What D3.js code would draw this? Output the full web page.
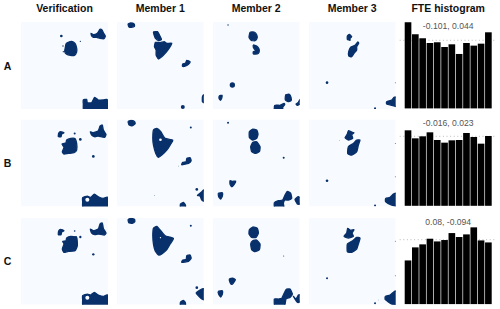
<!DOCTYPE html>
<meta charset="utf-8">
<style>
html, body { margin: 0; padding: 0; background: #fff; }
svg { display: block; }
text { font-family: "Liberation Sans", Arial, sans-serif; }
.title, .rowlabel { font-size: 10.5px; font-weight: bold; fill: #111; }
.stat { font-size: 8.6px; fill: #555; }
.ref { stroke: #aaa; stroke-width: 0.8; stroke-dasharray: 1 2.6; }
.blob { fill: #08306b; stroke: #08306b; stroke-width: 1.3; stroke-linejoin: round; }
</style>
<body>
<svg width="500" height="309"></svg>
<script src="https://d3js.org/d3.v7.min.js"></script>
<script>
var columnTitles = ["Verification", "Member 1", "Member 2", "Member 3", "FTE histogram"];
var rowLabels = ["A", "B", "C"];

// FTE histogram, frequency per bin (12 bins)
var fteA = [.1054, .0907, .0858, .0800, .0809, .0751, .0784, .0666, .0800, .0768, .0792, .0931];
var fteB = [.0905, .0809, .0833, .0881, .0789, .0757, .0785, .0789, .0873, .0825, .0745, .0837];
var fteC = [.0565, .0734, .0773, .0846, .0811, .0829, .0919, .0868, .0902, .0993, .0824, .0798];
var fteLabels = ["-0.101, 0.044", "-0.016, 0.023", "0.08, -0.094"];
var fteMax = [.1057, .1036, .1118];
var uniformFreq = 1 / 12;

// thresholded fields: outlines on a 0-261 grid, spots are [x, y, radius]
var outlinesAV = [
  [[140,62],[152,58],[162,64],[167,78],[167,90],[160,100],[148,100],[137,97],[131,88],[133,76],[135,66]],
  [[210,34],[217,38],[229,34],[237,22],[243,24],[248,34],[253,42],[249,50],[237,49],[227,46],[217,46],[212,42]],
  [[187,234],[197,232],[199,242],[212,242],[221,226],[232,234],[247,234],[257,232],[261,239],[264,270],[191,270],[187,246]]
];
var spotsAV = [[121,42,4],[178,58,2],[126,72,2],[127,89,2]];
var outlinesAM1 = [
  [[34,6],[42,3],[52,6],[53,13],[44,16],[36,14]],
  [[110,30],[122,29],[128,39],[134,52],[126,56],[116,49],[112,39]],
  [[116,61],[130,62],[142,59],[150,64],[165,64],[160,74],[153,84],[145,94],[135,104],[125,111],[118,99],[118,84],[113,74]],
  [[210,115],[220,119],[215,127],[207,132],[197,133],[198,126],[206,124]],
  [[257,224],[262,218],[268,244],[257,239]]
];
var spotsAM1 = [[198,255,6]];
var outlinesAM2 = [
  [[112,31],[124,30],[132,38],[133,49],[127,56],[116,55],[109,46]],
  [[122,69],[132,72],[139,81],[139,91],[134,96],[122,96],[122,89],[130,86],[125,81],[122,76]],
  [[20,222],[28,220],[27,229],[23,235],[19,229]],
  [[220,218],[230,217],[235,226],[235,236],[226,239],[218,234],[218,224]],
  [[186,250],[202,250],[214,244],[216,248],[210,256],[210,270],[186,270]],
  [[250,246],[257,241],[262,232],[266,244],[254,250]]
];
var spotsAM2 = [[46,9,2],[59,189,8]];
var outlinesAM3 = [
  [[116,42],[122,37],[129,44],[124,49],[124,55],[116,52]],
  [[147,60],[150,64],[144,74],[144,84],[136,94],[129,104],[120,102],[120,89],[126,76],[139,70]],
  [[234,239],[249,234],[256,226],[266,226],[266,254],[249,250],[234,246]]
];
var spotsAM3 = [[55,182,4],[199,259,3],[260,182,1.5]];

var outlinesBV = [
  [[137,62],[149,57],[162,57],[167,72],[167,92],[159,100],[142,102],[129,104],[124,97],[129,84],[123,74],[135,70]],
  [[113,42],[119,37],[129,40],[122,44],[120,52],[112,52]],
  [[208,37],[217,40],[232,34],[237,20],[244,17],[247,32],[255,45],[250,54],[232,50],[222,52],[212,47]],
  [[185,235],[199,230],[209,234],[220,224],[232,232],[247,237],[260,234],[266,270],[189,270],[185,247]]
];
var spotsBV = [[161,42,3],[178,60,4],[217,111,4]];
var holesBV = [[199,241,6]];
var outlinesBM1 = [
  [[34,7],[42,3],[53,6],[55,13],[47,19],[37,17]],
  [[110,32],[120,27],[132,37],[145,57],[168,62],[160,77],[150,92],[135,107],[125,114],[117,102],[110,77],[108,57]],
  [[210,117],[220,115],[223,124],[215,132],[195,136],[198,129],[208,127]],
  [[255,217],[262,212],[268,247],[255,242],[250,230],[242,228]],
  [[191,254],[200,249],[206,257],[205,270],[191,270]]
];
var spotsBM1 = [[222,24,3],[240,210,4],[185,140,1],[113,228,1]];
var holesBM1 = [[131,61,4]];
var outlinesBM2 = [
  [[110,37],[120,29],[132,32],[136,44],[132,57],[120,62],[110,54]],
  [[120,69],[132,67],[142,82],[140,97],[127,102],[117,97],[114,82]],
  [[52,184],[60,186],[69,185],[64,196],[57,202],[52,194]],
  [[17,222],[29,220],[29,230],[24,239],[18,232]],
  [[217,227],[224,216],[234,222],[237,237],[227,242],[217,242],[212,252],[214,270],[187,270],[185,250],[197,244],[210,242]],
  [[247,240],[257,232],[265,237],[262,254],[254,254]]
];
var spotsBM2 = [[46,10,3],[213,115,3]];
var outlinesBM3 = [
  [[109,55],[116,44],[119,34],[129,38],[136,40],[129,46],[132,57],[119,62]],
  [[144,62],[154,62],[149,77],[144,97],[129,107],[117,102],[119,82],[134,72]],
  [[231,237],[244,234],[254,224],[266,222],[266,260],[249,257],[231,247]]
];
var spotsBM3 = [[55,184,4],[92,64,1],[260,72,1.5],[260,172,1.5],[199,258,3]];

var outlinesCV = [
  [[137,61],[149,56],[167,59],[169,84],[162,99],[142,101],[129,104],[124,94],[129,79],[125,71],[135,69]],
  [[113,40],[119,35],[129,39],[122,43],[120,51],[112,51]],
  [[208,34],[217,39],[232,34],[237,19],[244,16],[247,32],[255,46],[250,52],[232,49],[222,51],[212,46]],
  [[185,234],[199,229],[209,232],[220,224],[232,232],[247,236],[260,232],[266,270],[189,270],[185,246]]
];
var spotsCV = [[161,40,2.5],[178,58,3.5],[165,58,3],[217,110,3.5]];
var holesCV = [[199,240,6]];
var outlinesCM1 = [
  [[34,6],[42,2],[53,5],[54,12],[46,17],[36,15]],
  [[110,32],[120,26],[132,39],[145,54],[170,62],[160,79],[150,96],[135,109],[125,112],[115,99],[110,79],[108,54]],
  [[210,114],[220,112],[223,122],[215,131],[195,134],[198,127],[208,125]],
  [[238,226],[255,214],[262,214],[268,246],[255,244]],
  [[191,254],[200,248],[206,256],[205,270],[191,270]]
];
var spotsCM1 = [[222,24,3],[240,210,4]];
var holesCM1 = [[131,60,2]];
var outlinesCM2 = [
  [[110,36],[120,28],[134,32],[137,46],[130,59],[117,59],[109,49]],
  [[120,69],[132,67],[142,79],[140,96],[127,102],[117,96],[114,79]],
  [[50,184],[60,181],[68,186],[62,196],[57,200],[52,194]],
  [[17,221],[29,219],[29,229],[24,238],[18,230]],
  [[210,236],[220,216],[232,214],[239,229],[232,239],[220,244],[214,270],[187,270],[185,244],[197,244],[207,242]],
  [[242,236],[250,244],[257,232],[266,232],[262,252],[254,254]]
];
var spotsCM2 = [[213,115,1.5]];
var outlinesCM3 = [
  [[106,56],[114,46],[117,32],[126,38],[136,36],[130,46],[134,56],[119,61]],
  [[144,59],[154,61],[149,79],[144,94],[129,104],[116,102],[116,79],[132,69]],
  [[230,236],[244,232],[256,222],[266,220],[266,260],[249,259],[230,246]]
];
var spotsCM3 = [[55,182,3],[260,71,1.5],[260,174,1.5],[199,257,3],[209,247,1]];

// rows -> columns
var outlines = [
  [outlinesAV, outlinesAM1, outlinesAM2, outlinesAM3],
  [outlinesBV, outlinesBM1, outlinesBM2, outlinesBM3],
  [outlinesCV, outlinesCM1, outlinesCM2, outlinesCM3]
];
var spots = [
  [spotsAV, spotsAM1, spotsAM2, spotsAM3],
  [spotsBV, spotsBM1, spotsBM2, spotsBM3],
  [spotsCV, spotsCM1, spotsCM2, spotsCM3]
];
var holes = [
  [[], [], [], []],
  [holesBV, holesBM1, [], []],
  [holesCV, holesCM1, [], []]
];
var ftes = [fteA, fteB, fteC];

var svg = d3.select("svg"),
    size = 87,
    colLeft = [21, 116.8, 212.7, 308.7, 404.7],
    rowTop = [22, 119.4, 217.7];

var x = d3.scaleLinear().domain([0, 261]).range([0, size]),
    y = d3.scaleLinear().domain([0, 261]).range([0, size]);

var bin = d3.scaleBand().domain(d3.range(12)).range([0, size]).paddingInner(0.09);

// closer to the vertices than catmull-rom, keeps the notches in the outlines
var outline = d3.line()
    .x(function(d) { return x(d[0]); })
    .y(function(d) { return y(d[1]); })
    .curve(d3.curveCardinalClosed.tension(0.5));

svg.append("clipPath").attr("id", "panel-clip")
  .append("rect").attr("width", size).attr("height", size);

svg.selectAll(".title")
    .data(columnTitles)
  .enter().append("text")
    .attr("class", "title")
    .attr("x", function(d, i) { return colLeft[i] + size / 2; })
    .attr("y", 12)
    .attr("text-anchor", "middle")
    .text(function(d) { return d; });

svg.selectAll(".rowlabel")
    .data(rowLabels)
  .enter().append("text")
    .attr("class", "rowlabel")
    .attr("x", 7.5)
    .attr("y", function(d, i) { return rowTop[i] + size / 2 + 4; })
    .attr("text-anchor", "middle")
    .text(function(d) { return d; });

rowLabels.forEach(function(row, r) {
  outlines[r].forEach(function(shapes, c) {
    var g = svg.append("g")
        .attr("transform", "translate(" + colLeft[c] + "," + rowTop[r] + ")");
    var inner = g.append("g").attr("clip-path", "url(#panel-clip)");

    inner.append("rect")
        .attr("width", size)
        .attr("height", size)
        .attr("fill", "#f7fbff");

    inner.selectAll("path")
        .data(shapes)
      .enter().append("path")
        .attr("class", "blob")
        .attr("d", outline);

    inner.selectAll(".spot")
        .data(spots[r][c])
      .enter().append("circle")
        .attr("class", "spot")
        .attr("cx", function(d) { return x(d[0]); })
        .attr("cy", function(d) { return y(d[1]); })
        .attr("r", function(d) { return x(d[2]); })
        .attr("fill", "#08306b");

    inner.selectAll(".hole")
        .data(holes[r][c])
      .enter().append("circle")
        .attr("class", "hole")
        .attr("cx", function(d) { return x(d[0]); })
        .attr("cy", function(d) { return y(d[1]); })
        .attr("r", function(d) { return x(d[2]); })
        .attr("fill", "#f7fbff");
  });

  // histogram column
  var h = svg.append("g")
      .attr("transform", "translate(" + colLeft[4] + "," + rowTop[r] + ")");
  var freq = d3.scaleLinear().domain([0, fteMax[r]]).range([size - 0.6, 0]);

  h.append("line")
      .attr("class", "ref")
      .attr("x1", -5)
      .attr("x2", size + 5)
      .attr("y1", freq(uniformFreq))
      .attr("y2", freq(uniformFreq));

  h.selectAll("rect")
      .data(ftes[r])
    .enter().append("rect")
      .attr("x", function(d, i) { return bin(i); })
      .attr("y", function(d) { return freq(d); })
      .attr("width", bin.bandwidth())
      .attr("height", function(d) { return freq(0) - freq(d); })
      .attr("fill", "#000");

  h.append("text")
      .attr("class", "stat")
      .attr("x", size / 2)
      .attr("y", 7)
      .attr("text-anchor", "middle")
      .text(fteLabels[r]);
});
</script>
</body>
